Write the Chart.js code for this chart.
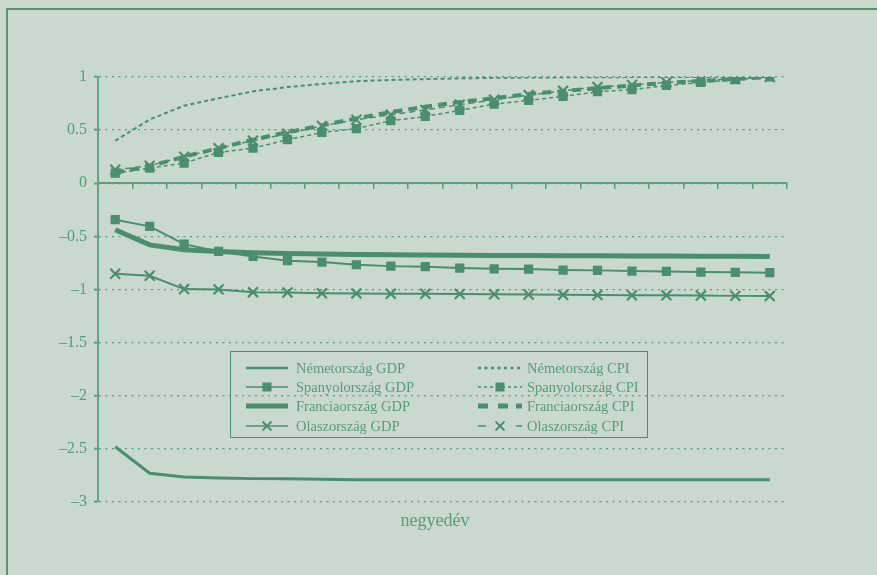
<!DOCTYPE html>
<html>
<head>
<meta charset="utf-8">
<script src="https://cdn.jsdelivr.net/npm/chart.js@4.4.1/dist/chart.umd.min.js"></script>
<style>
  html, body { margin:0; padding:0; width:877px; height:575px; overflow:hidden; background:#c9d9cd; }
  #frame { position:absolute; left:6px; top:8px; width:1000px; height:1000px; border:2px solid #5d8e6f; box-sizing:border-box; }
  #wrap { position:absolute; left:0; top:0; width:877px; height:575px; }
  #title { position:absolute; left:335px; width:200px; top:510px; text-align:center; font-family:"Liberation Serif", serif; font-size:18px; color:#5a9a7a; }
  #legend { position:absolute; left:230px; top:351px; width:418px; height:87px; border:1.5px solid #4d8d6d; box-sizing:border-box; font-family:"Liberation Serif", serif; font-size:14.5px; color:#5a9a7a; }
  .ent { position:absolute; height:16px; line-height:16px; white-space:nowrap; }
  .ent svg { position:absolute; top:2px; left:0; }
  .ent span { position:absolute; top:0; }
</style>
</head>
<body>
<div id="frame"></div>
<div id="wrap"><canvas id="c" width="877" height="575"></canvas></div>
<div id="title">negyedév</div>
<div id="legend"></div>
<script>
// ---- data ----
const quarters = ['1','2','3','4','5','6','7','8','9','10','11','12','13','14','15','16','17','18','19','20'];
const yTicks = [1, 0.5, 0, -0.5, -1, -1.5, -2, -2.5, -3];
const seriesNames = ['Németország GDP','Spanyolország GDP','Franciaország GDP','Olaszország GDP','Németország CPI','Spanyolország CPI','Franciaország CPI','Olaszország CPI'];
const deGDP = [-2.48, -2.73, -2.765, -2.775, -2.78, -2.78, -2.785, -2.79, -2.79, -2.79, -2.79, -2.79, -2.79, -2.79, -2.79, -2.79, -2.79, -2.79, -2.79, -2.79];
const esGDP = [-0.343, -0.406, -0.573, -0.642, -0.689, -0.729, -0.742, -0.767, -0.78, -0.785, -0.798, -0.805, -0.808, -0.817, -0.82, -0.827, -0.83, -0.836, -0.838, -0.842];
const frGDP = [-0.438, -0.58, -0.626, -0.642, -0.655, -0.662, -0.667, -0.67, -0.672, -0.675, -0.677, -0.679, -0.68, -0.682, -0.683, -0.684, -0.685, -0.686, -0.688, -0.689];
const itGDP = [-0.852, -0.871, -0.996, -0.999, -1.025, -1.028, -1.035, -1.037, -1.04, -1.04, -1.042, -1.045, -1.047, -1.05, -1.052, -1.054, -1.055, -1.057, -1.06, -1.062];
const deCPI = [0.40, 0.60, 0.73, 0.80, 0.865, 0.905, 0.935, 0.96, 0.972, 0.98, 0.987, 0.992, 0.995, 0.997, 0.998, 0.999, 1.0, 1.0, 1.0, 1.0];
const esCPI = [0.096, 0.143, 0.19, 0.29, 0.33, 0.41, 0.478, 0.515, 0.588, 0.629, 0.685, 0.745, 0.78, 0.817, 0.861, 0.88, 0.92, 0.949, 0.974, 1.0];
const frCPI = [0.10, 0.16, 0.25, 0.33, 0.41, 0.48, 0.545, 0.61, 0.67, 0.72, 0.765, 0.80, 0.84, 0.867, 0.895, 0.92, 0.945, 0.963, 0.98, 1.0];
const itCPI = [0.127, 0.165, 0.25, 0.33, 0.40, 0.466, 0.54, 0.598, 0.645, 0.69, 0.739, 0.786, 0.83, 0.87, 0.905, 0.925, 0.949, 0.968, 0.983, 1.0];

const LINE = '#4b8d6d';
const TEXT = '#5a9a7a';
const GRID = '#5a9a7a';

function ds(label, data, o) {
  return Object.assign({
    label, data, borderColor: LINE, backgroundColor: LINE,
    pointBackgroundColor: LINE, pointBorderColor: LINE,
    tension: 0, fill: false, pointRadius: 0, pointHoverRadius: 0
  }, o);
}

const datasets = [
  ds(seriesNames[0], deGDP, { borderWidth: 3 }),
  ds(seriesNames[1], esGDP, { borderWidth: 2, pointStyle: 'rect', pointRadius: 6.5, pointBorderWidth: 0 }),
  ds(seriesNames[2], frGDP, { borderWidth: 5 }),
  ds(seriesNames[3], itGDP, { borderWidth: 2, pointStyle: 'crossRot', pointRadius: 7, pointBorderWidth: 2.2 }),
  ds(seriesNames[4], deCPI, { borderWidth: 2, borderDash: [4, 3] }),
  ds(seriesNames[5], esCPI, { borderWidth: 1.5, borderDash: [4, 3], pointStyle: 'rect', pointRadius: 6.5, pointBorderWidth: 0 }),
  ds(seriesNames[6], frCPI, { borderWidth: 4, borderDash: [9, 6] }),
  ds(seriesNames[7], itCPI, { borderWidth: 1.5, borderDash: [6, 4], pointStyle: 'crossRot', pointRadius: 7, pointBorderWidth: 2.2 })
];

Chart.defaults.font.family = '"Liberation Serif", serif';

new Chart(document.getElementById('c'), {
  type: 'line',
  data: { labels: quarters, datasets },
  options: {
    responsive: false,
    animation: false,
    events: [],
    layout: { padding: { left: 48, top: 77, right: 90, bottom: 73 } },
    plugins: { legend: { display: false }, tooltip: { enabled: false } },
    scales: {
      x: {
        type: 'category',
        offset: true,
        position: { y: 0 },
        ticks: { display: false },
        grid: { offset: true, drawOnChartArea: false, drawTicks: true, tickLength: 5, color: GRID, lineWidth: 1.5 },
        border: { display: true, color: '#5d9c7c', width: 2 }
      },
      y: {
        min: -3, max: 1,
        afterFit: s => { s.width = 50; },
        afterBuildTicks: s => { s.ticks = yTicks.map(v => ({ value: v })); },
        ticks: {
          color: TEXT, padding: 7,
          font: { size: 16, family: '"Liberation Serif", serif' },
          callback: v => (v < 0 ? '\u2013' + Math.abs(v) : String(v))
        },
        grid: { drawOnChartArea: true, drawTicks: true, tickLength: 4, color: GRID, lineWidth: 1.3, tickBorderDash: [], tickColor: '#5d9c7c', tickWidth: 2 },
        border: { display: true, color: '#6aa487', width: 2, dash: [2, 4.5] }
      }
    }
  }
});

// ---- HTML legend ----
const NS = 'http://www.w3.org/2000/svg';
function svgEl(tag, attrs) { const e = document.createElementNS(NS, tag); for (const k in attrs) e.setAttribute(k, attrs[k]); return e; }
function sample(kind) {
  const s = svgEl('svg', { width: 46, height: 12 });
  const ln = (x1, x2, w, dash) => { const l = svgEl('line', { x1, x2, y1: 6, y2: 6, stroke: LINE, 'stroke-width': w }); if (dash) l.setAttribute('stroke-dasharray', dash); s.appendChild(l); };
  const sq = (cx) => s.appendChild(svgEl('rect', { x: cx - 4.5, y: 1.5, width: 9, height: 9, fill: LINE }));
  const cross = (cx) => { s.appendChild(svgEl('line', { x1: cx - 4.5, y1: 1.5, x2: cx + 4.5, y2: 10.5, stroke: LINE, 'stroke-width': 1.8 })); s.appendChild(svgEl('line', { x1: cx - 4.5, y1: 10.5, x2: cx + 4.5, y2: 1.5, stroke: LINE, 'stroke-width': 1.8 })); };
  switch (kind) {
    case 0: ln(0, 42, 2.5); break;
    case 1: ln(0, 42, 1.5); sq(21); break;
    case 2: ln(0, 42, 5); break;
    case 3: ln(0, 42, 1.5); cross(21); break;
    case 4: ln(0, 44, 2.5, '3,3.5'); break;
    case 5: ln(0, 44, 1.5, '3,3'); sq(22); break;
    case 6: ln(0, 10, 5); ln(20, 30, 5); ln(38, 44, 5); break;
    case 7: ln(0, 8, 1.5); cross(22); ln(38, 44, 1.5); break;
  }
  return s;
}
const legend = document.getElementById('legend');
const rowsY = [8, 27, 46, 66];
seriesNames.forEach((name, i) => {
  const col = i < 4 ? 0 : 1, row = i % 4;
  const d = document.createElement('div');
  d.className = 'ent';
  d.style.left = (col === 0 ? 15 : 247) + 'px';
  d.style.top = rowsY[row] + 'px';
  d.appendChild(sample(i));
  const sp = document.createElement('span');
  sp.style.left = (col === 0 ? 50 : 49) + 'px';
  sp.textContent = name;
  d.appendChild(sp);
  legend.appendChild(d);
});
</script>
</body>
</html>
